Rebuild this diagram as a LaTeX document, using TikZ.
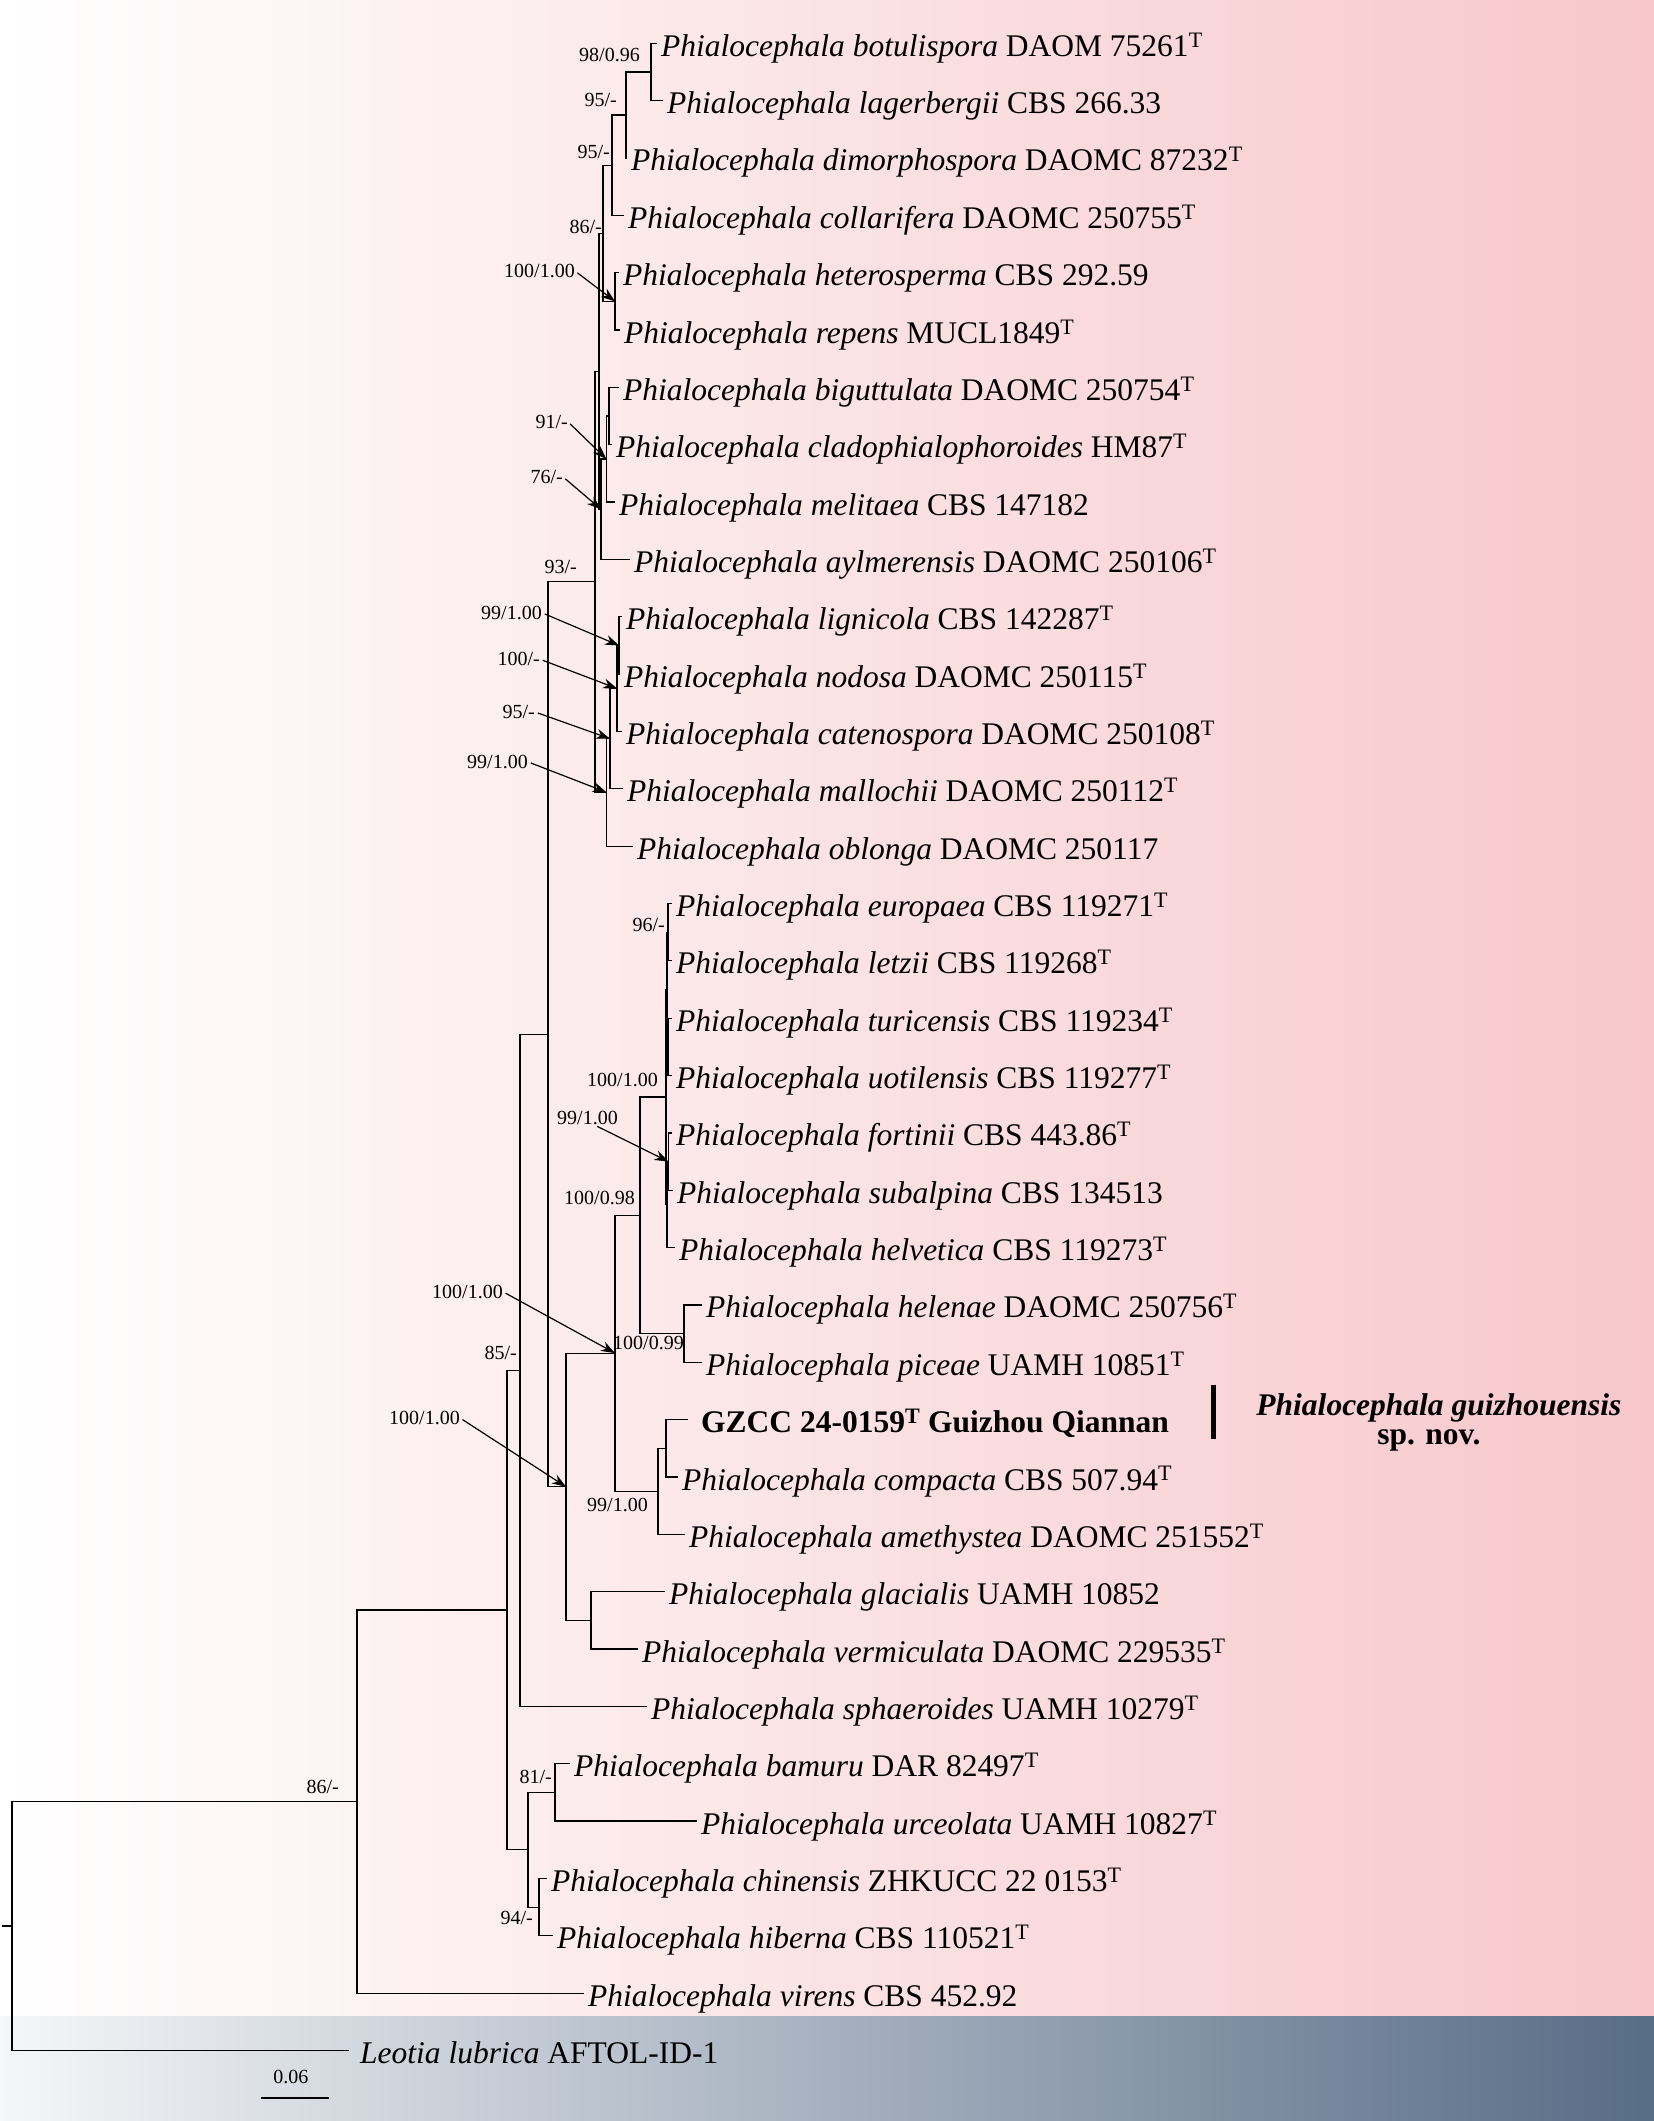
\documentclass[tikz,border=0pt]{standalone}
\usepackage{fontspec}
\setmainfont{Liberation Serif}
\usetikzlibrary{arrows.meta, shadings}
\definecolor{pinkbg}{RGB}{247,199,203}
\definecolor{slatelt}{RGB}{245,246,248}
\definecolor{slatedk}{RGB}{87,108,134}
\newcommand{\phial}[1]{\textit{Phialocephala #1}}
\newcommand{\typeT}{\textsuperscript{T}}

\begin{document}
\begin{tikzpicture}[
    x=1pt, y=-57.35pt,
    taxon/.style={anchor=west, inner xsep=4pt, inner ysep=0pt, text height=30pt, text depth=4pt,
                  font=\fontsize{31.5}{37}\selectfont},
    support/.style={inner sep=0pt, font=\fontsize{20}{24}\selectfont},
    newname/.style={anchor=base, inner sep=0pt, font=\fontsize{31.5}{37}\selectfont\bfseries},
    branch/.style={line width=1.2pt},
    pointer/.style={line width=1.2pt, shorten <=3pt, -{Stealth[length=14pt,width=10pt]}}
  ]
  \useasboundingbox (0,-0.755) rectangle (1654,36.23);
  \fill[left color=white, right color=pinkbg] (0,-0.755) rectangle (1654,34.40);
  \fill[left color=slatelt, right color=slatedk] (0,34.40) rectangle (1654,36.23);

  \node[taxon] (botu)    at (657,0)  {\phial{botulispora} DAOM 75261\typeT};
  \node[taxon] (lager)   at (663,1)  {\phial{lagerbergii} CBS 266.33};
  \node[taxon] (dimor)   at (627,2)  {\phial{dimorphospora} DAOMC 87232\typeT};
  \node[taxon] (collar)  at (624,3)  {\phial{collarifera} DAOMC 250755\typeT};
  \node[taxon] (hetero)  at (619,4)  {\phial{heterosperma} CBS 292.59};
  \node[taxon] (repens)  at (620,5)  {\phial{repens} MUCL1849\typeT};
  \node[taxon] (bigutt)  at (619,6)  {\phial{biguttulata} DAOMC 250754\typeT};
  \node[taxon] (clado)   at (612,7)  {\phial{cladophialophoroides} HM87\typeT};
  \node[taxon] (melit)   at (615,8)  {\phial{melitaea} CBS 147182};
  \node[taxon] (aylm)    at (630,9)  {\phial{aylmerensis} DAOMC 250106\typeT};
  \node[taxon] (lign)    at (622,10) {\phial{lignicola} CBS 142287\typeT};
  \node[taxon] (nodosa)  at (620,11) {\phial{nodosa} DAOMC 250115\typeT};
  \node[taxon] (caten)   at (622,12) {\phial{catenospora} DAOMC 250108\typeT};
  \node[taxon] (malloc)  at (623,13) {\phial{mallochii} DAOMC 250112\typeT};
  \node[taxon] (oblong)  at (633,14) {\phial{oblonga} DAOMC 250117};
  \node[taxon] (europ)   at (672,15) {\phial{europaea} CBS 119271\typeT};
  \node[taxon] (letzii)  at (672,16) {\phial{letzii} CBS 119268\typeT};
  \node[taxon] (turic)   at (672,17) {\phial{turicensis} CBS 119234\typeT};
  \node[taxon] (uotil)   at (672,18) {\phial{uotilensis} CBS 119277\typeT};
  \node[taxon] (fortin)  at (672,19) {\phial{fortinii} CBS 443.86\typeT};
  \node[taxon] (subalp)  at (673,20) {\phial{subalpina} CBS 134513};
  \node[taxon] (helvet)  at (675,21) {\phial{helvetica} CBS 119273\typeT};
  \node[taxon] (helenae) at (702,22) {\phial{helenae} DAOMC 250756\typeT};
  \node[taxon] (piceae)  at (702,23) {\phial{piceae} UAMH 10851\typeT};
  \node[taxon, inner xsep=13pt, font=\fontsize{31.5}{37}\selectfont\bfseries] (gzcc) at (688,24)
       {GZCC 24-0159\typeT{} Guizhou Qiannan};
  \node[taxon] (compac)  at (678,25) {\phial{compacta} CBS 507.94\typeT};
  \node[taxon] (amethy)  at (685,26) {\phial{amethystea} DAOMC 251552\typeT};
  \node[taxon] (glacial) at (665,27) {\phial{glacialis} UAMH 10852};
  \node[taxon] (vermic)  at (638,28) {\phial{vermiculata} DAOMC 229535\typeT};
  \node[taxon] (sphaer)  at (647,29) {\phial{sphaeroides} UAMH 10279\typeT};
  \node[taxon] (bamuru)  at (570,30) {\phial{bamuru} DAR 82497\typeT};
  \node[taxon] (urceol)  at (697,31) {\phial{urceolata} UAMH 10827\typeT};
  \node[taxon] (chinen)  at (547,32) {\phial{chinensis} ZHKUCC 22 0153\typeT};
  \node[taxon] (hibern)  at (553,33) {\phial{hiberna} CBS 110521\typeT};
  \node[taxon] (virens)  at (584,34) {\phial{virens} CBS 452.92};
  \node[taxon, inner xsep=11pt] (leotia) at (349,35) {\textit{Leotia lubrica} AFTOL-ID-1};

  \coordinate (n98)   at (651,0.5);
  \coordinate (n95a)  at (626,1.25);
  \coordinate (n95b)  at (612,2.125);
  \coordinate (nhr)   at (615,4.5);
  \coordinate (n86a)  at (603,3.3125);
  \coordinate (nbc)   at (609,6.5);
  \coordinate (n91)   at (606.5,7.25);
  \coordinate (n76)   at (601,8.125);
  \coordinate (nup)   at (599,5.72);
  \coordinate (nln)   at (619,10.5);
  \coordinate (n100b) at (617,11.25);
  \coordinate (n95c)  at (610,12.125);
  \coordinate (n99b)  at (606.5,13.06);
  \coordinate (n93)   at (595,9.39);
  \coordinate (n96)   at (668,15.5);
  \coordinate (ntu)   at (668,17.5);
  \coordinate (neu)   at (667,16.5);
  \coordinate (n99c)  at (668.5,19.5);
  \coordinate (nfh)   at (667,20.25);
  \coordinate (n100c) at (666,18.375);
  \coordinate (nhp)   at (684,22.5);
  \coordinate (n100d) at (640,20.44);
  \coordinate (ngc)   at (666,24.5);
  \coordinate (n99d)  at (658,25.25);
  \coordinate (n100e) at (615,22.84);
  \coordinate (ngv)   at (591,27.5);
  \coordinate (n100f) at (566,25.17);
  \coordinate (nmid)  at (548,17.28);
  \coordinate (n85)   at (520,23.14);
  \coordinate (n81)   at (555,30.5);
  \coordinate (n94)   at (539,32.5);
  \coordinate (nbch)  at (528,31.5);
  \coordinate (ncore) at (507,27.32);
  \coordinate (n86b)  at (357,30.66);
  \coordinate (root)  at (12,32.83);
  \coordinate (rootstub) at (2,32.83);

  \draw[branch] (botu.west) -| (n98) |- (lager.west);
  \draw[branch] (n98) -| (n95a) |- (dimor.west);
  \draw[branch] (n95a) -| (n95b) |- (collar.west);
  \draw[branch] (hetero.west) -| (nhr) |- (repens.west);
  \draw[branch] (n95b) -| (n86a) |- (nhr);
  \draw[branch] (bigutt.west) -| (nbc) |- (clado.west);
  \draw[branch] (nbc) -| (n91) |- (melit.west);
  \draw[branch] (n91) -| (n76) |- (aylm.west);
  \draw[branch] (n86a) -| (nup) |- (n76);
  \draw[branch] (lign.west) -| (nln) |- (nodosa.west);
  \draw[branch] (nln) -| (n100b) |- (caten.west);
  \draw[branch] (n100b) -| (n95c) |- (malloc.west);
  \draw[branch] (n95c) -| (n99b) |- (oblong.west);
  \draw[branch] (nup) -| (n93) |- (n99b);
  \draw[branch] (europ.west) -| (n96) |- (letzii.west);
  \draw[branch] (turic.west) -| (ntu) |- (uotil.west);
  \draw[branch] (n96) -| (neu) |- (ntu);
  \draw[branch] (fortin.west) -| (n99c) |- (subalp.west);
  \draw[branch] (n99c) -| (nfh) |- (helvet.west);
  \draw[branch] (neu) -| (n100c) |- (nfh);
  \draw[branch] (helenae.west) -| (nhp) |- (piceae.west);
  \draw[branch] (n100c) -| (n100d) |- (nhp);
  \draw[branch] (gzcc.west) -| (ngc) |- (compac.west);
  \draw[branch] (ngc) -| (n99d) |- (amethy.west);
  \draw[branch] (n100d) -| (n100e) |- (n99d);
  \draw[branch] (glacial.west) -| (ngv) |- (vermic.west);
  \draw[branch] (n100e) -| (n100f) |- (ngv);
  \draw[branch] (n93) -| (nmid) |- (n100f);
  \draw[branch] (nmid) -| (n85) |- (sphaer.west);
  \draw[branch] (bamuru.west) -| (n81) |- (urceol.west);
  \draw[branch] (chinen.west) -| (n94) |- (hibern.west);
  \draw[branch] (n81) -| (nbch) |- (n94);
  \draw[branch] (n85) -| (ncore) |- (nbch);
  \draw[branch] (ncore) -| (n86b) |- (virens.west);
  \draw[branch] (n86b) -| (root) |- (leotia.west);
  \draw[branch] (root) -- (rootstub);

  \node[support, anchor=east] (l98)   at (640,0.20)  {98/0.96};
  \node[support, anchor=east] (l95a)  at (617,0.99)  {95/-};
  \node[support, anchor=east] (l95b)  at (610,1.90)  {95/-};
  \node[support, anchor=east] (l86a)  at (602,3.20)  {86/-};
  \node[support, anchor=east] (lhr)   at (575,3.97)  {100/1.00};
  \node[support, anchor=east] (l91)   at (568,6.60)  {91/-};
  \node[support, anchor=east] (l76)   at (563,7.56)  {76/-};
  \node[support, anchor=east] (l93)   at (577,9.13)  {93/-};
  \node[support, anchor=east] (lln)   at (542,9.93)  {99/1.00};
  \node[support, anchor=east] (l100b) at (540,10.74) {100/-};
  \node[support, anchor=east] (l95c)  at (535,11.66) {95/-};
  \node[support, anchor=east] (l99b)  at (528,12.53) {99/1.00};
  \node[support, anchor=east] (l96)   at (665,15.37) {96/-};
  \node[support, anchor=east] (l100c) at (658,18.08) {100/1.00};
  \node[support, anchor=east] (l99c)  at (618,18.74) {99/1.00};
  \node[support, anchor=east] (l100d) at (635,20.13) {100/0.98};
  \node[support, anchor=east] (l100e) at (503,21.77) {100/1.00};
  \node[support, anchor=east] (lhp)   at (684,22.66) {100/0.99};
  \node[support, anchor=east] (l85)   at (517,22.84) {85/-};
  \node[support, anchor=east] (l100f) at (460,23.97) {100/1.00};
  \node[support, anchor=east] (l99d)  at (648,25.49) {99/1.00};
  \node[support, anchor=east] (l81)   at (552,30.23) {81/-};
  \node[support, anchor=east] (l94)   at (533,32.69) {94/-};
  \node[support, anchor=east] (l86b)  at (339,30.40) {86/-};

  \draw[pointer] (lhr.east) -- (nhr);
  \draw[pointer] (l91.east) -- (n91);
  \draw[pointer] (l76.east) -- (n76);
  \draw[pointer] (lln.east) -- (nln);
  \draw[pointer] (l100b.east) -- (n100b);
  \draw[pointer] (l95c.east) -- (n95c);
  \draw[pointer] (l99b.east) -- (n99b);
  \draw[pointer] ([xshift=7pt]l99c.south) -- (n99c);
  \draw[pointer] (l100e.east) -- (n100e);
  \draw[pointer] (l100f.east) -- (n100f);

  \coordinate (barL) at (261,35.83);
  \coordinate (barR) at (329,35.83);
  \draw[line width=2pt] (barL) -- (barR);
  \node[support, anchor=base] (scaletxt) at (291,35.58) {0.06};

  \coordinate (bartop) at (1214,23.39);
  \coordinate (barbot) at (1214,24.34);
  \draw[line width=5pt] (bartop) -- (barbot);
  \node[newname, font=\fontsize{31.5}{37}\selectfont\bfseries\itshape] (newsp) at (1439,23.92) {Phialocephala guizhouensis};
  \node[newname] (spnov) at (1429,24.44) {sp. nov.};
\end{tikzpicture}
\end{document}
